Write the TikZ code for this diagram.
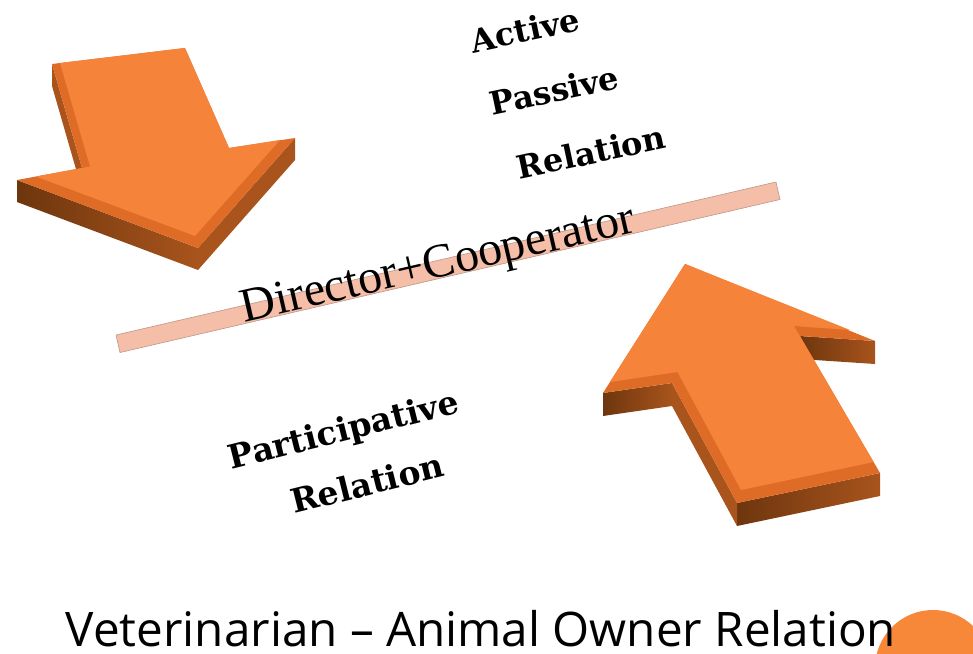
\documentclass[tikz,border=0pt]{standalone}
\usepackage{fontspec}
\setmainfont{Liberation Serif}
\newfontfamily\titlefont{Open Sans}
\newfontfamily\lblfont{DejaVu Serif}
\definecolor{orangetop}{RGB}{245,132,58}
\definecolor{orangebevel}{RGB}{222,108,38}
\definecolor{orangeside}{RGB}{168,84,28}
\definecolor{orangedark}{RGB}{110,54,14}
\definecolor{barpink}{RGB}{244,190,168}
\definecolor{barline}{RGB}{190,150,135}
\definecolor{dotorange}{RGB}{247,136,58}
\begin{document}
\begin{tikzpicture}[x=1pt,y=-1pt,line join=round,
	lbl/.style={font=\lblfont\bfseries\fontsize{32}{32}\selectfont,rotate=12,inner sep=0pt},
	lblb/.style={font=\lblfont\bfseries\fontsize{33}{33}\selectfont,rotate=14,inner sep=0pt},
	side/.style={fill=orangeside},
	sidedark/.style={left color=orangedark,right color=orangeside},
	bevel/.style={fill=orangebevel},
	face/.style={fill=orangetop}]
	\useasboundingbox (0,0) rectangle (973,653);
	\def\dl{22}
	\def\dr{23}
	\foreach \n/\x/\y in {a/52/64,b/185/48,c/229/148,d/295/138,e/198/248,f/17/180,g/82/168}
	{
		\coordinate (la\n) at (\x,\y);
	}
	\foreach \n/\x/\y in {t/685/264,r/875/341,ri/800/336,sr/880/473,sl/737/503,li/672/383,l/603/393}
	{
		\coordinate (ra\n) at (\x,\y);
	}
	\shade[sidedark] (lae)--(laf)--([yshift=-\dl pt]laf)--([yshift=-\dl pt]lae)--cycle;
	\fill[side] (lad)--(lae)--([yshift=-\dl pt]lae)--([yshift=-\dl pt]lad)--cycle;
	\fill[side] (lag)--(laa)--([yshift=-\dl pt]laa)--([yshift=-\dl pt]lag)--cycle;
	\fill[bevel] (laa)--(lab)--(lac)--(lad)--(lae)--(laf)--(lag)--cycle;
	\fill[face] (60,63)--(lab)--(lac)--(280,140)--(195,236)--(36,176.5)--(90,166.5)--cycle;
	\shade[sidedark] (rar)--(rari)--([yshift=-\dr pt]rari)--([yshift=-\dr pt]rar)--cycle;
	\shade[sidedark] (rasl)--(rasr)--([yshift=-\dr pt]rasr)--([yshift=-\dr pt]rasl)--cycle;
	\fill[side] (rasl)--(rali)--([yshift=-\dr pt]rali)--([yshift=-\dr pt]rasl)--cycle;
	\shade[sidedark] (ral)--(rali)--([yshift=-\dr pt]rali)--([yshift=-\dr pt]ral)--cycle;
	\fill[bevel] (rat)--(rar)--(rari)--(rasr)--(rasl)--(rali)--(ral)--cycle;
	\fill[face] (rat)--(850,330)--(794,326)--(873.6,462)--(741,490)--(677.5,372)--(610,382)--cycle;
	\fill[barpink,draw=barline,line width=0.6pt] (116,335)--(776,182)--(780,199.5)--(120,352.5)--cycle;
	\node[font=\fontsize{48}{48}\selectfont,rotate=13,anchor=base,inner sep=0pt] (dirco) at (441,277) {Director+Cooperator};
	\foreach \n/\x/\y/\t in {act/525/30/Active,pas/554/90/Passive,rel/591/152/Relation}
	{
		\node[lbl] (\n) at (\x,\y) {\t};
	}
	\node[lblb] (part) at (344,432) {Participative};
	\node[lblb] (relb) at (367,483) {Relation};
	\fill[dotorange] (933,668) circle (58pt);
	\node[font=\titlefont\fontsize{47.6}{48}\selectfont,anchor=base,inner sep=0pt] (title) at (481,646) {Veterinarian – Animal Owner Relation};
\end{tikzpicture}
\end{document}
